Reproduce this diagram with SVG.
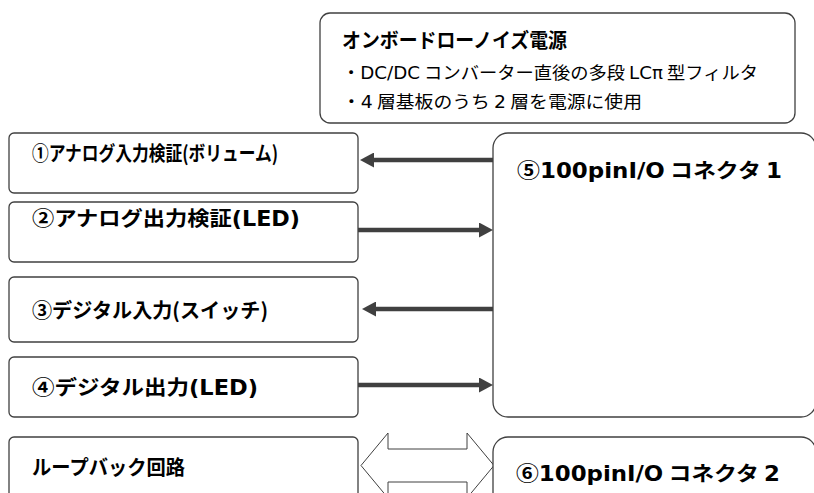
<svg xmlns="http://www.w3.org/2000/svg" width="814" height="493" viewBox="0 0 814 493">
<style>
.box{fill:#fff;stroke:#404040;stroke-width:1.3}
.t{font-family:"Noto Sans CJK JP","Noto Sans CJK SC",sans-serif;fill:#000}
.l{font-family:"DejaVu Sans","Noto Sans CJK JP",sans-serif}
.b{font-weight:bold;font-size:20.5px}
.big{font-weight:bold;font-size:20.5px}
.ttl{font-weight:bold;font-size:20px}
.sub{font-size:17.5px}
.con{stroke:#404040;stroke-width:4.5;fill:none;marker-end:url(#ah)}
.blk{fill:#fff;stroke:#404040;stroke-width:1}
</style>
<defs>
<marker id="ah" markerUnits="userSpaceOnUse" markerWidth="14" markerHeight="15" refX="4" refY="7.5" orient="auto">
<path d="M0,0 L14,7.5 L0,15 z" fill="#404040"/>
</marker>
</defs>
<g id="power">
<rect class="box" x="320" y="13" width="475" height="110" rx="10"/>
<text class="t ttl" x="342" y="48" textLength="225" lengthAdjust="spacingAndGlyphs">オンボードローノイズ電源</text>
<text class="t sub" x="342" y="79" textLength="416" lengthAdjust="spacingAndGlyphs">・<tspan class="l">DC/DC</tspan> コンバーター直後の多段 <tspan class="l">LCπ</tspan> 型フィルタ</text>
<text class="t sub" x="342" y="108" textLength="300" lengthAdjust="spacingAndGlyphs">・<tspan class="l">4</tspan> 層基板のうち <tspan class="l">2</tspan> 層を電源に使用</text>
</g>
<g id="n1">
<rect class="box" x="9" y="133" width="349" height="60" rx="5"/>
<text class="t b" x="32" y="161" textLength="246" lengthAdjust="spacingAndGlyphs">①アナログ入力検証(ボリューム)</text>
</g>
<g id="n2">
<rect class="box" x="9" y="202" width="349" height="60" rx="5"/>
<text class="t b" x="32" y="226" textLength="268" lengthAdjust="spacingAndGlyphs">②アナログ出力検証<tspan class="l">(LED)</tspan></text>
</g>
<g id="n3">
<rect class="box" x="9" y="277" width="349" height="65" rx="5"/>
<text class="t b" x="32" y="318" textLength="236" lengthAdjust="spacingAndGlyphs">③デジタル入力(スイッチ)</text>
</g>
<g id="n4">
<rect class="box" x="9" y="357" width="349" height="60" rx="5"/>
<text class="t b" x="32" y="395" textLength="226" lengthAdjust="spacingAndGlyphs">④デジタル出力<tspan class="l">(LED)</tspan></text>
</g>
<g id="loop">
<rect class="box" x="9" y="437" width="349" height="80" rx="5"/>
<text class="t b" x="32" y="475" textLength="153" lengthAdjust="spacingAndGlyphs">ループバック回路</text>
</g>
<g id="conn1">
<rect class="box" x="493" y="133" width="323" height="284" rx="15"/>
<text class="t big" x="517" y="178" textLength="265" lengthAdjust="spacingAndGlyphs">⑤<tspan class="l">100pinI/O</tspan> コネクタ <tspan class="l">1</tspan></text>
</g>
<g id="connectors">
<path class="con" d="M493,160 H370"/>
<path class="con" d="M358,230 H483"/>
<path class="con" d="M493,309 H372"/>
<path class="con" d="M358,385 H483"/>
<polygon class="blk" points="361,465.5 388,433 388,449 467,449 467,433 494,465.5 467,498 467,482 388,482 388,498"/>
</g>
<g id="conn2">
<rect class="box" x="493" y="437" width="323" height="80" rx="15"/>
<text class="t big" x="516" y="481" textLength="264" lengthAdjust="spacingAndGlyphs">⑥<tspan class="l">100pinI/O</tspan> コネクタ <tspan class="l">2</tspan></text>
</g>
</svg>
